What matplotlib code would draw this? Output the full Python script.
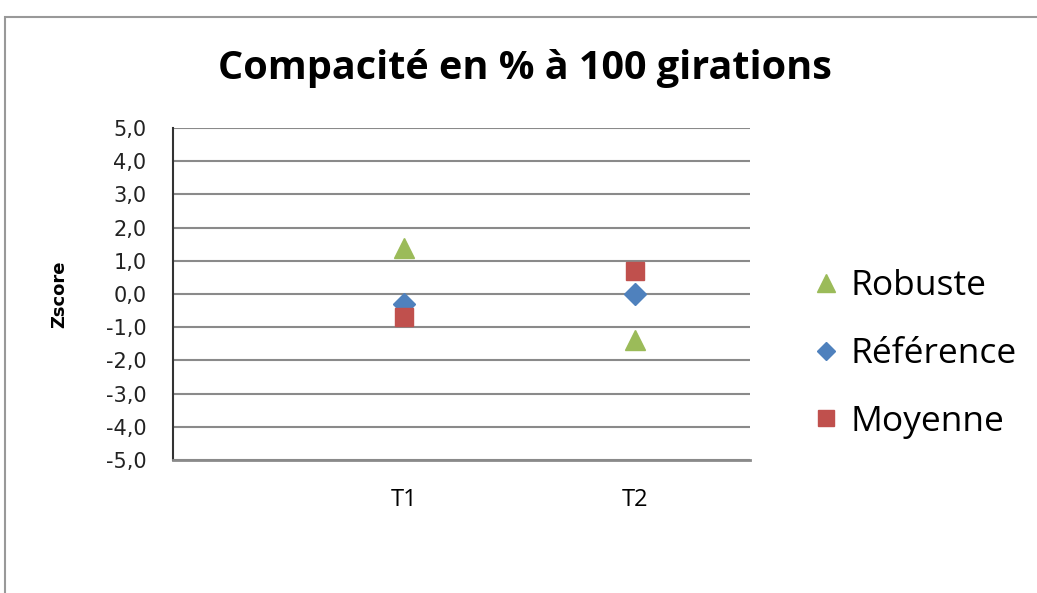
import matplotlib.pyplot as plt
from matplotlib.patches import Rectangle
from matplotlib.ticker import FuncFormatter

# valeurs
categories = ['T1', 'T2']
robuste = [1.4, -1.4]
reference = [-0.3, 0.0]
moyenne = [-0.7, 0.7]

fig = plt.figure(figsize=(10.37, 5.93), dpi=100)
ax = fig.add_axes([173/1037, 1-460/593, (750-173)/1037, (460-128)/593])

x = [1, 2]
ax.plot(x, robuste, linestyle='none', marker='^', markersize=15, color='#9BBB59', label='Robuste', zorder=3)
ax.plot(x, reference, linestyle='none', marker='D', markersize=11, color='#4F81BD', label='Référence', zorder=4)
ax.plot(x, moyenne, linestyle='none', marker='s', markersize=13, color='#C0504D', label='Moyenne', zorder=5)

ax.set_xlim(0, 2.5)
ax.set_ylim(-5, 5)
ax.set_yticks(range(-5, 6))
ax.yaxis.set_major_formatter(FuncFormatter(lambda v, p: ('%.1f' % v).replace('.', ',')))
ax.set_xticks(x)
ax.set_xticklabels(categories, family='Open Sans', fontsize=17)
ax.tick_params(axis='y', length=0, labelsize=15, pad=19, labelcolor='#222222')
ax.tick_params(axis='x', length=0, pad=20)
ax.grid(axis='y', color='#8a8a8a', linewidth=1.5)
ax.set_axisbelow(True)
for s in ['top', 'right']:
    ax.spines[s].set_visible(False)
ax.spines['left'].set_color('#333333')
ax.spines['left'].set_linewidth(1.5)
ax.spines['bottom'].set_color('#8a8a8a')
ax.spines['bottom'].set_linewidth(2)

fig.text(525/1037, 1-69/593, 'Compacité en % à 100 girations', ha='center', va='center',
         family='Open Sans', fontweight='bold', fontsize=28.5)
fig.text(59/1037, 1-294/593, 'Zscore', rotation=90, ha='center', va='center',
         fontsize=13, fontweight='bold')

leg = ax.legend(loc='center left', bbox_to_anchor=(776/1037, 1-354/593), bbox_transform=fig.transFigure,
                frameon=False, prop={'family': 'Open Sans', 'size': 25.5}, labelspacing=0.95,
                handlelength=1.0, handletextpad=0.2, markerscale=0.85)

# cadre de la zone de graphique
fig.patches.append(Rectangle((5/1037, -0.1), 1.2, 1.1-17/593, transform=fig.transFigure,
                             fill=False, edgecolor='#999999', linewidth=1.5))

fig.savefig('out.png', dpi=100)
